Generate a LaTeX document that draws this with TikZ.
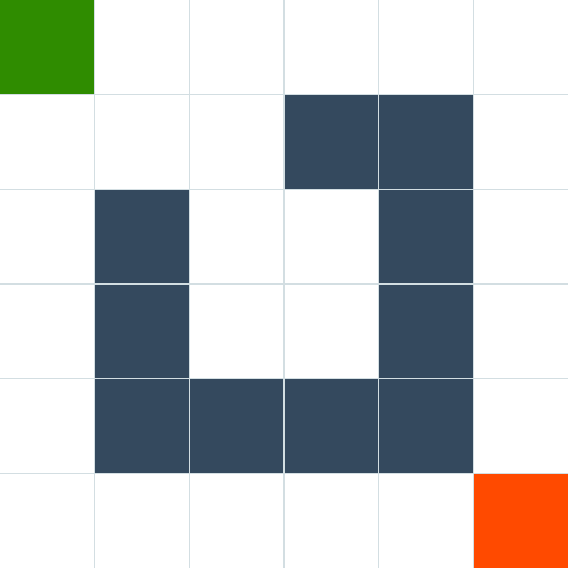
\documentclass[tikz,border=0pt]{standalone}
\definecolor{wallblue}{HTML}{34495E}
\definecolor{startgreen}{HTML}{2F8C00}
\definecolor{goalorange}{HTML}{FF4A00}
\definecolor{gridgray}{HTML}{D3DEE2}

\begin{document}
\begin{tikzpicture}[x=1cm,y=-1cm,
  cell/.style={draw=gridgray, line width=0.4pt}]
  %
  \useasboundingbox (0,0) rectangle (6,6);
  \fill[white] (0,0) rectangle (6,6);
  %
  \fill[startgreen] (0,0) rectangle (1,1);
  \fill[goalorange] (5,5) rectangle (6,6);
  %
  \foreach \c/\r in {3/1,4/1,1/2,4/2,1/3,4/3,1/4,2/4,3/4,4/4}
    \fill[wallblue] (\c,\r) rectangle ++(1,1);
  %
  \foreach \i in {1,...,5} {
    \draw[cell] (\i,0) -- (\i,6);
    \draw[cell] (0,\i) -- (6,\i);
  }
  %
\end{tikzpicture}
\end{document}
